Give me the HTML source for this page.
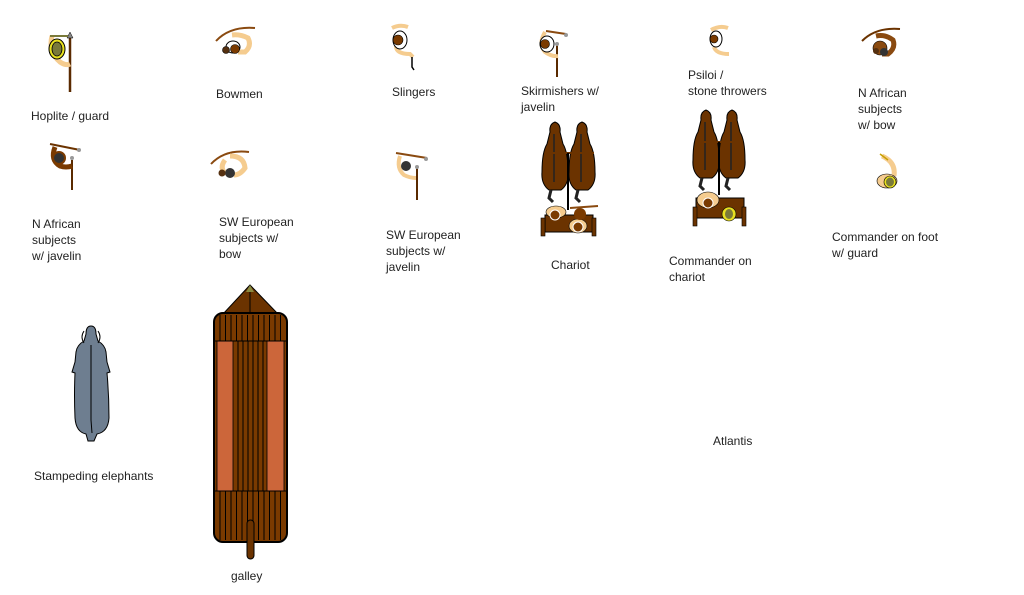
<!DOCTYPE html>
<html><head><meta charset="utf-8"><style>
html,body{margin:0;padding:0;background:#fff;}
svg{display:block;}
text{font-family:"Liberation Sans",sans-serif;font-size:12px;fill:#222;}
</style></head><body>
<svg width="1024" height="595" viewBox="0 0 1024 595" xmlns="http://www.w3.org/2000/svg">
<defs>
<g id="horse">
  <path d="M-5,0 Q-6,-8 0,-10 Q6,-8 5,0 L8,12 Q13,20 13,40 Q14,52 6,58 L-6,58 Q-14,52 -13,40 Q-13,20 -8,12 Z" fill="#6b3300" stroke="#000" stroke-width="1"/>
  <path d="M-1,2 L-1,50" stroke="#222" stroke-width="1.5"/>
  <path d="M-4,58 L-6,66 L-2,70" stroke="#222" stroke-width="3" fill="none"/>
</g>
</defs>

<!-- Hoplite -->
<line x1="70" y1="37" x2="70" y2="92" stroke="#5a2a00" stroke-width="2.5"/>
<polygon points="70,32 67,38 73,38" fill="#888" stroke="#000" stroke-width=".5"/>
<path d="M52,36 Q48,52 60,62 Q66,66 70,64" stroke="#f5cc8f" stroke-width="5" fill="none"/>
<ellipse cx="57" cy="49" rx="8" ry="10" fill="#e8e020" stroke="#000" stroke-width="1"/>
<ellipse cx="57" cy="49" rx="5" ry="7" fill="#7a7a3a" stroke="#000" stroke-width=".8"/>
<line x1="50" y1="36" x2="68" y2="36" stroke="#7a7a3a" stroke-width="2"/>

<!-- Bowmen -->
<path d="M216,41 Q230,26 255,28" stroke="#8a4a10" stroke-width="2" fill="none"/>
<path d="M232,35 Q240,34 248,38 Q252,46 245,52 L238,52" stroke="#f5cc8f" stroke-width="5" fill="none"/>
<ellipse cx="233" cy="47" rx="7" ry="6" fill="#fff" stroke="#000"/>
<circle cx="235" cy="49" r="4.5" fill="#7a3a00" stroke="#000" stroke-width=".6"/>
<circle cx="226" cy="50" r="3.5" fill="#553010" stroke="#000" stroke-width=".6"/>

<!-- Slingers -->
<path d="M392,28 Q400,24 408,27 M396,46 Q396,54 410,54 L413,57" stroke="#f5cc8f" stroke-width="4" fill="none"/>
<ellipse cx="400" cy="40" rx="7" ry="9" fill="#fff" stroke="#000"/>
<circle cx="398" cy="40" r="5" fill="#7a3a00" stroke="#000" stroke-width=".6"/>
<path d="M412,57 L412,67 L414,70" stroke="#000" stroke-width="1.5" fill="none"/>

<!-- Skirmishers -->
<line x1="557" y1="44" x2="557" y2="77" stroke="#5a2a00" stroke-width="2"/>
<line x1="546" y1="31" x2="566" y2="34" stroke="#8a4a10" stroke-width="2"/>
<circle cx="566" cy="35" r="2" fill="#999"/><circle cx="557" cy="44" r="2" fill="#999"/>
<path d="M545,32 Q538,44 545,52 Q552,57 558,56" stroke="#f5cc8f" stroke-width="4" fill="none"/>
<ellipse cx="547" cy="44" rx="7" ry="8" fill="#fff" stroke="#000"/>
<circle cx="545" cy="44" r="4.5" fill="#7a3a00" stroke="#000" stroke-width=".6"/>

<!-- Psiloi -->
<path d="M711,30 Q720,25 728,28 M714,47 Q716,54 729,54" stroke="#f5cc8f" stroke-width="4" fill="none"/>
<ellipse cx="716" cy="39" rx="6" ry="8" fill="#fff" stroke="#000"/>
<circle cx="714" cy="39" r="4" fill="#7a3a00" stroke="#000" stroke-width=".6"/>

<!-- N African bow -->
<path d="M862,41 Q876,27 900,29" stroke="#6b3300" stroke-width="2" fill="none"/>
<path d="M876,36 Q885,34 893,40 Q896,48 888,54 L882,54" stroke="#8a4a10" stroke-width="5" fill="none"/>
<circle cx="880" cy="48" r="7" fill="#8a4a10" stroke="#000" stroke-width=".6"/>
<circle cx="884" cy="52" r="4" fill="#333"/>
<circle cx="876" cy="51" r="3" fill="#553010"/>

<!-- N African javelin -->
<line x1="72" y1="160" x2="72" y2="190" stroke="#5a2a00" stroke-width="2"/>
<line x1="50" y1="144" x2="80" y2="150" stroke="#6b3300" stroke-width="2"/>
<circle cx="79" cy="150" r="2" fill="#999"/><circle cx="72" cy="158" r="2" fill="#999"/>
<path d="M55,147 Q50,160 60,166 Q66,168 72,166" stroke="#7a3a00" stroke-width="5" fill="none"/>
<circle cx="59" cy="158" r="6" fill="#333" stroke="#7a3a00" stroke-width="2"/>

<!-- SW European bow -->
<path d="M211,164 Q225,149 249,152" stroke="#8a4a10" stroke-width="2" fill="none"/>
<path d="M225,160 Q219,168 226,174 M230,156 Q244,156 245,168 Q240,175 234,175" stroke="#f5cc8f" stroke-width="5" fill="none"/>
<circle cx="230" cy="173" r="5" fill="#333"/>
<circle cx="222" cy="173" r="3.5" fill="#553010"/>

<!-- SW European javelin -->
<line x1="417" y1="168" x2="417" y2="200" stroke="#5a2a00" stroke-width="2"/>
<line x1="396" y1="153" x2="427" y2="158" stroke="#8a4a10" stroke-width="2"/>
<circle cx="426" cy="159" r="2" fill="#999"/><circle cx="417" cy="167" r="2" fill="#999"/>
<path d="M400,156 Q396,168 404,175 Q410,178 416,178" stroke="#f5cc8f" stroke-width="4" fill="none"/>
<circle cx="406" cy="166" r="5" fill="#333"/>

<!-- Chariot 1 -->
<use href="#horse" x="555" y="132"/>
<use href="#horse" x="582" y="132"/>
<line x1="545" y1="153" x2="594" y2="153" stroke="#6b3300" stroke-width="2"/>
<line x1="568" y1="153" x2="568" y2="210" stroke="#000" stroke-width="2"/>
<rect x="545" y="215" width="48" height="17" fill="#6b3300" stroke="#000"/>
<rect x="541" y="218" width="4" height="18" fill="#6b3300" stroke="#000" stroke-width=".6"/>
<rect x="592" y="218" width="4" height="18" fill="#6b3300" stroke="#000" stroke-width=".6"/>
<ellipse cx="556" cy="212" rx="10" ry="6" fill="#f5cc8f" stroke="#000" stroke-width=".6"/>
<circle cx="555" cy="215" r="5" fill="#7a3a00" stroke="#fff"/>
<ellipse cx="578" cy="226" rx="9" ry="7" fill="#f5cc8f" stroke="#000" stroke-width=".6"/>
<circle cx="578" cy="227" r="5" fill="#7a3a00" stroke="#fff"/>
<circle cx="580" cy="214" r="6" fill="#7a3a00"/>
<line x1="570" y1="208" x2="598" y2="206" stroke="#8a4a10" stroke-width="2"/>

<!-- Chariot 2 -->
<use href="#horse" x="706" y="120"/>
<use href="#horse" x="732" y="120"/>
<line x1="697" y1="142" x2="742" y2="142" stroke="#6b3300" stroke-width="2"/>
<line x1="719" y1="142" x2="719" y2="195" stroke="#000" stroke-width="2"/>
<rect x="696" y="198" width="48" height="20" fill="#6b3300" stroke="#000"/>
<rect x="693" y="207" width="4" height="19" fill="#6b3300" stroke="#000" stroke-width=".6"/>
<rect x="742" y="207" width="4" height="19" fill="#6b3300" stroke="#000" stroke-width=".6"/>
<ellipse cx="708" cy="200" rx="11" ry="8" fill="#f5cc8f" stroke="#000" stroke-width=".6"/>
<circle cx="708" cy="203" r="5" fill="#7a3a00" stroke="#fff"/>
<ellipse cx="729" cy="214" rx="7" ry="7" fill="#e8e020" stroke="#000" stroke-width=".6"/>
<ellipse cx="729" cy="214" rx="4" ry="5" fill="#7a7a3a"/>

<!-- Commander on foot -->
<path d="M882,156 Q896,162 894,176" stroke="#f5cc8f" stroke-width="5" fill="none"/>
<path d="M880,154 L888,160" stroke="#c8a000" stroke-width="1.5"/>
<ellipse cx="887" cy="181" rx="10" ry="7" fill="#f5cc8f" stroke="#000" stroke-width=".6"/>
<ellipse cx="890" cy="182" rx="6" ry="6" fill="#e8e020" stroke="#000" stroke-width=".6"/>
<ellipse cx="890" cy="182" rx="4" ry="4.5" fill="#7a7a3a"/>

<!-- Elephant -->
<path d="M86,334 Q86,326 91,326 Q96,326 96,334 L98,341 Q105,345 106,352 L107,362 L110,372 L107,373 Q109,395 109,418 Q108,432 97,434 L94,441 L88,441 L86,434 Q76,432 75,418 Q74,395 75,373 L72,372 L75,362 L76,352 Q77,345 84,341 Z" fill="#6e7e90" stroke="#000" stroke-width="1"/>
<path d="M91,345 L91,420 L92,433" stroke="#000" stroke-width="1" fill="none"/>
<path d="M84,331 Q80,337 84,343 M98,331 Q102,337 98,343" stroke="#000" fill="none"/>

<!-- Galley -->
<polygon points="250,285 223,314 278,314" fill="#6b3300" stroke="#000"/>
<line x1="250" y1="287" x2="250" y2="314" stroke="#000"/>
<polygon points="250,285 246,292 254,292" fill="#8a8a40"/>
<rect x="214" y="313" width="73" height="229" rx="9" fill="#7a3a00" stroke="#000" stroke-width="2"/>
<g stroke="#000" stroke-width="1">
<path d="M220,315V341M225.5,315V341M231,315V341M236.5,315V341M242,315V341M247.5,315V341M253,315V341M258.5,315V341M264,315V341M269.5,315V341M275,315V341M280.5,315V341"/>
<path d="M220,491V540M225.5,491V540M231,491V540M236.5,491V540M242,491V540M247.5,491V540M253,491V540M258.5,491V540M264,491V540M269.5,491V540M275,491V540M280.5,491V540"/>
<path d="M238,341V491M243,341V491M248,341V491M253,341V491M258,341V491M263,341V491"/>
</g>
<rect x="217" y="341" width="16" height="150" fill="#cc663a" stroke="#000" stroke-width=".8"/>
<rect x="267" y="341" width="17" height="150" fill="#cc663a" stroke="#000" stroke-width=".8"/>
<line x1="214" y1="341" x2="287" y2="341" stroke="#000"/>
<line x1="214" y1="491" x2="287" y2="491" stroke="#000"/>
<rect x="247" y="520" width="7" height="39" rx="3.5" fill="#6b3300" stroke="#000"/>

<!-- Labels -->
<text x="31" y="120">Hoplite / guard</text>
<text x="216" y="98">Bowmen</text>
<text x="392" y="96">Slingers</text>
<text x="521" y="95">Skirmishers w/</text>
<text x="521" y="111">javelin</text>
<text x="688" y="79">Psiloi /</text>
<text x="688" y="95">stone throwers</text>
<text x="858" y="97">N African</text>
<text x="858" y="113">subjects</text>
<text x="858" y="129">w/ bow</text>
<text x="32" y="228">N African</text>
<text x="32" y="244">subjects</text>
<text x="32" y="260">w/ javelin</text>
<text x="219" y="226">SW European</text>
<text x="219" y="242">subjects w/</text>
<text x="219" y="258">bow</text>
<text x="386" y="239">SW European</text>
<text x="386" y="255">subjects w/</text>
<text x="386" y="271">javelin</text>
<text x="551" y="269">Chariot</text>
<text x="669" y="265">Commander on</text>
<text x="669" y="281">chariot</text>
<text x="832" y="241">Commander on foot</text>
<text x="832" y="257">w/ guard</text>
<text x="34" y="480">Stampeding elephants</text>
<text x="231" y="580">galley</text>
<text x="713" y="445">Atlantis</text>
</svg>
</body></html>
